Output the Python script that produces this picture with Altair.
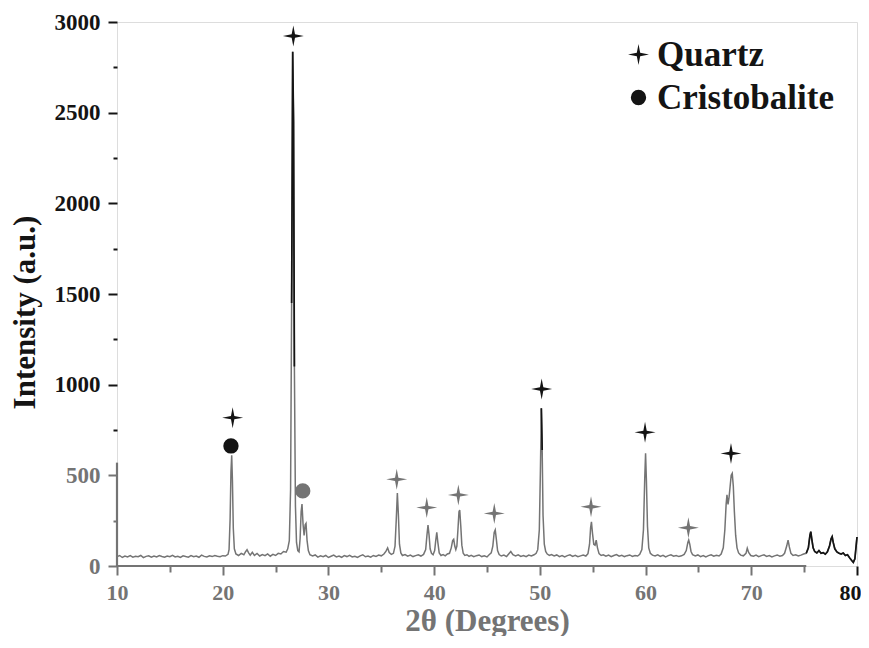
import altair as alt
import pandas as pd

# ---------------- data ----------------
two_theta = [
    10.0, 10.25, 10.5, 10.75, 11.0, 11.25, 11.5, 11.75, 12.0, 12.25,
    12.5, 12.75, 13.0, 13.25, 13.5, 13.75, 14.0, 14.25, 14.5, 14.75,
    15.0, 15.25, 15.5, 15.75, 16.0, 16.25, 16.5, 16.75, 17.0, 17.25,
    17.5, 17.75, 18.0, 18.25, 18.5, 18.75, 19.0, 19.25, 19.5, 19.75,
    20.0, 20.25, 20.5, 20.6, 20.7, 20.78, 20.85, 20.92, 21.0, 21.1,
    21.25, 21.5, 21.75, 22.0, 22.15, 22.3, 22.45, 22.6, 22.8, 23.0,
    23.25, 23.5, 23.75, 24.0, 24.25, 24.5, 24.75, 25.0, 25.25, 25.5,
    25.75, 26.0, 26.15, 26.3, 26.42, 26.52, 26.62, 26.7, 26.78, 26.88,
    26.98, 27.1, 27.22, 27.32, 27.42, 27.5, 27.6, 27.7, 27.8, 27.88,
    27.98, 28.1, 28.25, 28.5, 28.75, 29.0, 29.25, 29.5, 29.75, 30.0,
    30.25, 30.5, 30.75, 31.0, 31.25, 31.5, 31.75, 32.0, 32.25, 32.5,
    32.75, 33.0, 33.25, 33.5, 33.75, 34.0, 34.25, 34.5, 34.75, 35.0,
    35.25, 35.45, 35.6, 35.75, 35.95, 36.15, 36.3, 36.42, 36.52, 36.62,
    36.72, 36.85, 37.0, 37.25, 37.5, 37.75, 38.0, 38.25, 38.5, 38.75,
    39.0, 39.2, 39.32, 39.42, 39.52, 39.62, 39.75, 39.9, 40.05, 40.15,
    40.25, 40.35, 40.48, 40.65, 40.85, 41.05, 41.25, 41.45, 41.62, 41.75,
    41.85, 41.95, 42.05, 42.15, 42.25, 42.35, 42.42, 42.52, 42.62, 42.75,
    42.9, 43.1, 43.3, 43.5, 43.75, 44.0, 44.25, 44.5, 44.75, 45.0,
    45.2, 45.4, 45.55, 45.68, 45.78, 45.88, 46.0, 46.15, 46.35, 46.6,
    46.85, 47.05, 47.25, 47.45, 47.7, 47.95, 48.2, 48.45, 48.7, 48.95,
    49.2, 49.45, 49.65, 49.8, 49.95, 50.05, 50.14, 50.22, 50.3, 50.42,
    50.55, 50.7, 50.9, 51.1, 51.35, 51.6, 51.85, 52.1, 52.35, 52.6,
    52.85, 53.1, 53.35, 53.6, 53.85, 54.1, 54.35, 54.55, 54.7, 54.8,
    54.88, 54.98, 55.1, 55.22, 55.33, 55.45, 55.6, 55.8, 56.0, 56.25,
    56.5, 56.75, 57.0, 57.25, 57.5, 57.75, 58.0, 58.25, 58.5, 58.75,
    59.0, 59.25, 59.45, 59.65, 59.8, 59.92, 60.0, 60.08, 60.18, 60.3,
    60.45, 60.65, 60.9, 61.15, 61.4, 61.65, 61.9, 62.15, 62.4, 62.65,
    62.9, 63.15, 63.4, 63.65, 63.85, 64.0, 64.08, 64.18, 64.3, 64.45,
    64.7, 64.95, 65.2, 65.45, 65.7, 65.95, 66.2, 66.45, 66.7, 66.95,
    67.15, 67.35, 67.5, 67.62, 67.7, 67.8, 67.9, 68.0, 68.1, 68.2,
    68.3, 68.4, 68.52, 68.65, 68.8, 69.0, 69.25, 69.5, 69.62, 69.75,
    69.95, 70.2, 70.45, 70.7, 70.95, 71.2, 71.45, 71.7, 71.95, 72.2,
    72.45, 72.7, 72.95, 73.15, 73.35, 73.48, 73.6, 73.75, 73.95, 74.2,
    74.45, 74.7, 74.95, 75.2, 75.4, 75.55, 75.63, 75.72, 75.85, 76.0,
    76.2, 76.4, 76.6, 76.8, 77.0, 77.2, 77.4, 77.55, 77.65, 77.75,
    77.9, 78.1, 78.3, 78.5, 78.7, 78.9, 79.1, 79.3, 79.5, 79.65,
    79.8, 79.9, 80.0,
]
intensity = [
    52, 58, 47, 55, 50, 57, 49, 54, 51, 58,
    46, 53, 56, 49, 55, 50, 57, 52, 48, 55,
    51, 59, 50, 54, 47, 56, 52, 49, 57, 51,
    55, 48, 60, 53, 50, 56, 52, 58, 54, 51,
    57, 55, 64, 90, 260, 520, 610, 470, 210, 95,
    66, 58, 70, 62, 78, 90, 72, 60, 76, 58,
    69, 55, 63, 57, 67, 54, 64, 58, 70, 66,
    80, 76, 95, 140, 420, 1450, 2836, 2450, 1100, 330,
    130, 85, 78, 150, 300, 342, 230, 168, 228, 235,
    140, 85, 62, 55, 61, 49, 56, 51, 58, 47,
    54, 60, 50, 55, 48, 57, 52, 59, 50, 54,
    47, 56, 62, 51, 55, 49, 58, 53, 60, 56,
    66, 82, 100, 74, 64, 70, 110, 260, 403, 280,
    120, 72, 58, 63, 54, 60, 52, 57, 62, 55,
    64, 90, 170, 226, 170, 95, 70, 62, 85, 140,
    186, 130, 72, 58, 63, 56, 66, 70, 100, 140,
    147, 110, 90, 110, 200, 300, 309, 220, 115, 70,
    58, 62, 53, 59, 51, 57, 61, 52, 56, 50,
    62, 72, 110, 185, 199, 150, 85, 63, 55, 60,
    52, 66, 80, 62, 56, 62, 53, 58, 51, 60,
    55, 62, 70, 90, 200, 520, 870, 640, 280, 120,
    80, 66, 58, 63, 55, 61, 52, 58, 50, 57,
    62, 53, 59, 51, 56, 60, 55, 68, 120, 210,
    244, 180, 120, 115, 143, 100, 68, 58, 62, 54,
    60, 51, 58, 63, 54, 59, 52, 57, 61, 53,
    58, 55, 64, 90, 200, 480, 621, 470, 220, 100,
    70, 60, 55, 62, 53, 59, 50, 57, 62, 54,
    58, 52, 56, 64, 85, 130, 143, 120, 80, 62,
    55, 61, 52, 58, 50, 57, 62, 54, 59, 55,
    66, 100, 200, 340, 392, 340, 380, 440, 500, 511,
    440, 300, 170, 100, 72, 60, 56, 70, 98, 75,
    58, 54, 60, 51, 57, 62, 53, 58, 50, 56,
    61, 54, 58, 70, 110, 143, 105, 70, 58, 62,
    55, 60, 66, 70, 100, 170, 189, 150, 100, 80,
    72, 85, 70, 74, 65, 78, 110, 150, 162, 130,
    95, 78, 70, 66, 72, 58, 62, 45, 30, 20,
    40, 100, 160,
]

phase_names = ["Quartz", "Cristobalite"]
quartz_2theta = [20.94, 26.68, 36.46, 39.30, 42.29, 45.69, 50.17, 54.84, 59.95, 64.05, 68.08]
quartz_intensity = [818, 2923, 478, 322, 392, 290, 976, 327, 737, 211, 621]
cristobalite_2theta = [20.78, 27.57]
cristobalite_intensity = [662, 414]

x_ticks = [10, 15, 20, 25, 30, 35, 40, 45, 50, 55, 60, 65, 70, 75, 80]
y_ticks = [0, 250, 500, 750, 1000, 1250, 1500, 1750, 2000, 2250, 2500, 2750, 3000]

# the scanned original is grey below/left of this band edge
scan_edge_2theta = 75.2
scan_edge_intensity = 570

# ---------------- tables ----------------
pattern = pd.DataFrame({"two_theta": two_theta, "intensity": intensity})
markers = pd.DataFrame({
    "two_theta": quartz_2theta + cristobalite_2theta,
    "intensity": quartz_intensity + cristobalite_intensity,
    "phase": [phase_names[0]] * len(quartz_2theta) + [phase_names[1]] * len(cristobalite_2theta),
})
edge_bottom = pd.DataFrame({"two_theta": [10], "two_theta2": [scan_edge_2theta], "intensity": [0]})
edge_left = pd.DataFrame({"two_theta": [10], "intensity": [0], "intensity2": [scan_edge_intensity]})

DARK = "#141414"
GREY = "#747474"
FONT = "Liberation Serif"
STAR = "M0,-1L0.16,-0.16L1,0L0.16,0.16L0,1L-0.16,0.16L-1,0L-0.16,-0.16Z"

x_scale = alt.Scale(domain=[10, 80], nice=False, zero=False)
y_scale = alt.Scale(domain=[0, 3000], nice=False)

x_axis = alt.Axis(
    values=x_ticks,
    format="d",
    domain=False,
    grid=False,
    labelExpr="datum.value % 10 === 0 ? datum.label : ''",
    labelOverlap=False,
    labelFlush=False,
    labelFont=FONT, labelFontSize=22, labelFontWeight="bold",
    labelColor={"condition": {"test": "datum.value < 80", "value": GREY}, "value": DARK},
    labelAlign={"condition": {"test": "datum.value === 80", "value": "right"}, "value": "center"},
    labelOffset={"condition": {"test": "datum.value === 80", "value": 4}, "value": 0},
    labelPadding=7,
    tickSize={"condition": {"test": "datum.value % 10 === 0", "value": 9}, "value": 6},
    tickWidth=2,
    tickColor={"condition": {"test": "datum.value <= 75", "value": GREY}, "value": DARK},
    titleFont=FONT, titleFontSize=31, titleFontWeight="bold", titleColor=GREY,
    titleBaseline="alphabetic", titleY=64,
)
y_axis = alt.Axis(
    values=y_ticks,
    format="d",
    domain=False,
    grid=False,
    labelExpr="datum.value % 500 === 0 ? datum.label : ''",
    labelOverlap=False,
    labelFlush=False,
    labelFont=FONT, labelFontSize=23, labelFontWeight="bold",
    labelColor={"condition": {"test": "datum.value <= 500", "value": GREY}, "value": DARK},
    labelPadding=8,
    tickSize={"condition": {"test": "datum.value % 500 === 0", "value": 9}, "value": 4},
    tickWidth=2,
    tickColor={"condition": {"test": "datum.value <= 500", "value": GREY}, "value": DARK},
    titleFont=FONT, titleFontSize=31, titleFontWeight="bold", titleColor=DARK,
    titleAngle=-90, titleBaseline="alphabetic", titleAlign="center",
    titleX=-83, titleY=290,
)

X = alt.X("two_theta:Q", scale=x_scale, axis=x_axis, title="2θ (Degrees)")
Y = alt.Y("intensity:Q", scale=y_scale, axis=y_axis, title="Intensity (a.u.)")

grey_trace = alt.Chart(pattern).mark_line(color=GREY, strokeWidth=1.5).encode(x=X, y=Y)

dark_trace = alt.Chart(pattern).transform_calculate(
    dark=f"(datum.intensity > {scan_edge_intensity} || datum.two_theta >= {scan_edge_2theta}) ? datum.intensity : null"
).mark_line(color=DARK, strokeWidth=1.7).encode(
    x=X,
    y=alt.Y("dark:Q", scale=y_scale, axis=y_axis, title="Intensity (a.u.)"),
)

edge_b = alt.Chart(edge_bottom).mark_rule(color=GREY, strokeWidth=2.2).encode(
    x=X, x2="two_theta2:Q", y=Y
)
edge_l = alt.Chart(edge_left).mark_rule(color=GREY, strokeWidth=2.2).encode(
    x=X, y=Y, y2="intensity2:Q"
)

legend = alt.Legend(
    title=None, orient="none", legendX=504, legendY=15,
    labelFont=FONT, labelFontSize=35, labelFontWeight="bold", labelColor=DARK,
    labelOffset=1, labelLimit=0, rowPadding=7, padding=0,
    symbolFillColor=DARK, symbolStrokeColor=DARK, symbolStrokeWidth=0, symbolOpacity=1,
)

points = alt.Chart(markers).mark_point(filled=True, opacity=1, strokeWidth=0).encode(
    x=X,
    y=Y,
    shape=alt.Shape(
        "phase:N",
        scale=alt.Scale(domain=phase_names, range=[STAR, "circle"]),
        legend=legend,
    ),
    size=alt.Size(
        "phase:N",
        scale=alt.Scale(domain=phase_names, range=[440, 235]),
        legend=legend,
    ),
    color=alt.condition(f"datum.intensity <= {scan_edge_intensity}", alt.value(GREY), alt.value(DARK)),
)

chart = alt.layer(grey_trace, dark_trace, edge_b, edge_l, points).properties(
    width=740,
    height=544,
    autosize=alt.AutoSizeParams(type="none"),
    padding={"left": 109, "top": 14, "right": 4, "bottom": 70},
).configure_view(
    stroke=DARK, strokeWidth=2
).configure(
    background="white"
)

chart.save("out.html", embed_options={"renderer": "svg", "actions": False})
